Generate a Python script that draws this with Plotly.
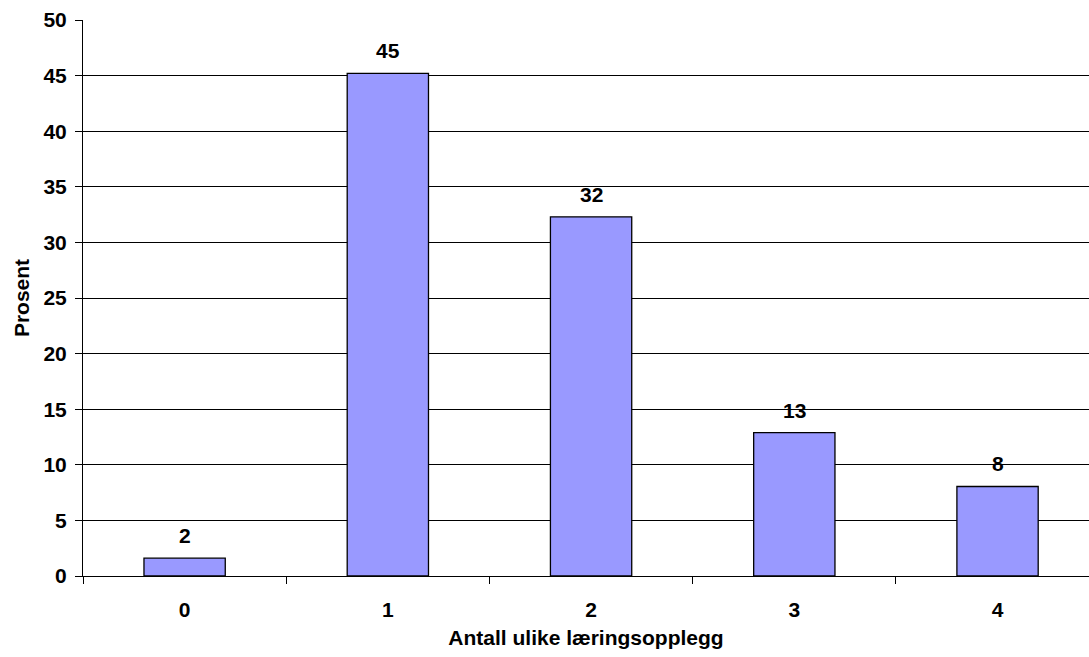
import plotly.graph_objects as go

categories = ["0", "1", "2", "3", "4"]
values = [1.6, 45.2, 32.3, 12.9, 8.05]
labels = ["2", "45", "32", "13", "8"]

font = "Liberation Sans, Arial, sans-serif"
fs = 21

fig = go.Figure(go.Bar(
    x=categories, y=values,
    marker=dict(color="#9999ff", line=dict(color="black", width=1.3)),
))
for c, v, t in zip(categories, values, labels):
    fig.add_annotation(x=c, y=v, text="<b>%s</b>" % t, showarrow=False,
                       yanchor="bottom", yshift=9,
                       font=dict(family=font, size=fs, color="black"))
fig.update_layout(
    width=1089, height=657,
    margin=dict(l=83, r=0, t=20, b=81),
    plot_bgcolor="white", paper_bgcolor="white",
    bargap=0.6, showlegend=False,
    font=dict(family=font, size=fs, color="black"),
)
fig.update_xaxes(
    type="category", range=[-0.5, 4.45],
    tickson="boundaries", ticks="outside", ticklen=7,
    tickcolor="black", showline=True, linecolor="black", linewidth=1,
    tickvals=categories, ticktext=["<b>%s</b>" % c for c in categories],
    tickfont=dict(family=font, size=fs, color="black"), showgrid=False,
    ticklabelstandoff=15,
    title=dict(text="<b>Antall ulike læringsopplegg</b>", font=dict(family=font, size=fs), standoff=10),
)
fig.update_yaxes(
    range=[0, 50], dtick=5, ticks="outside", ticklen=7, tickcolor="black",
    showline=True, linecolor="black", linewidth=1,
    showgrid=True, gridcolor="black", gridwidth=1, zeroline=False,
    tickfont=dict(family=font, size=fs, color="black"),
    tickprefix="<b>", ticksuffix="</b>",
    ticklabelstandoff=4,
    title=dict(text="<b>Prosent</b>", font=dict(family=font, size=fs), standoff=8),
)
fig.write_html("out.html")
